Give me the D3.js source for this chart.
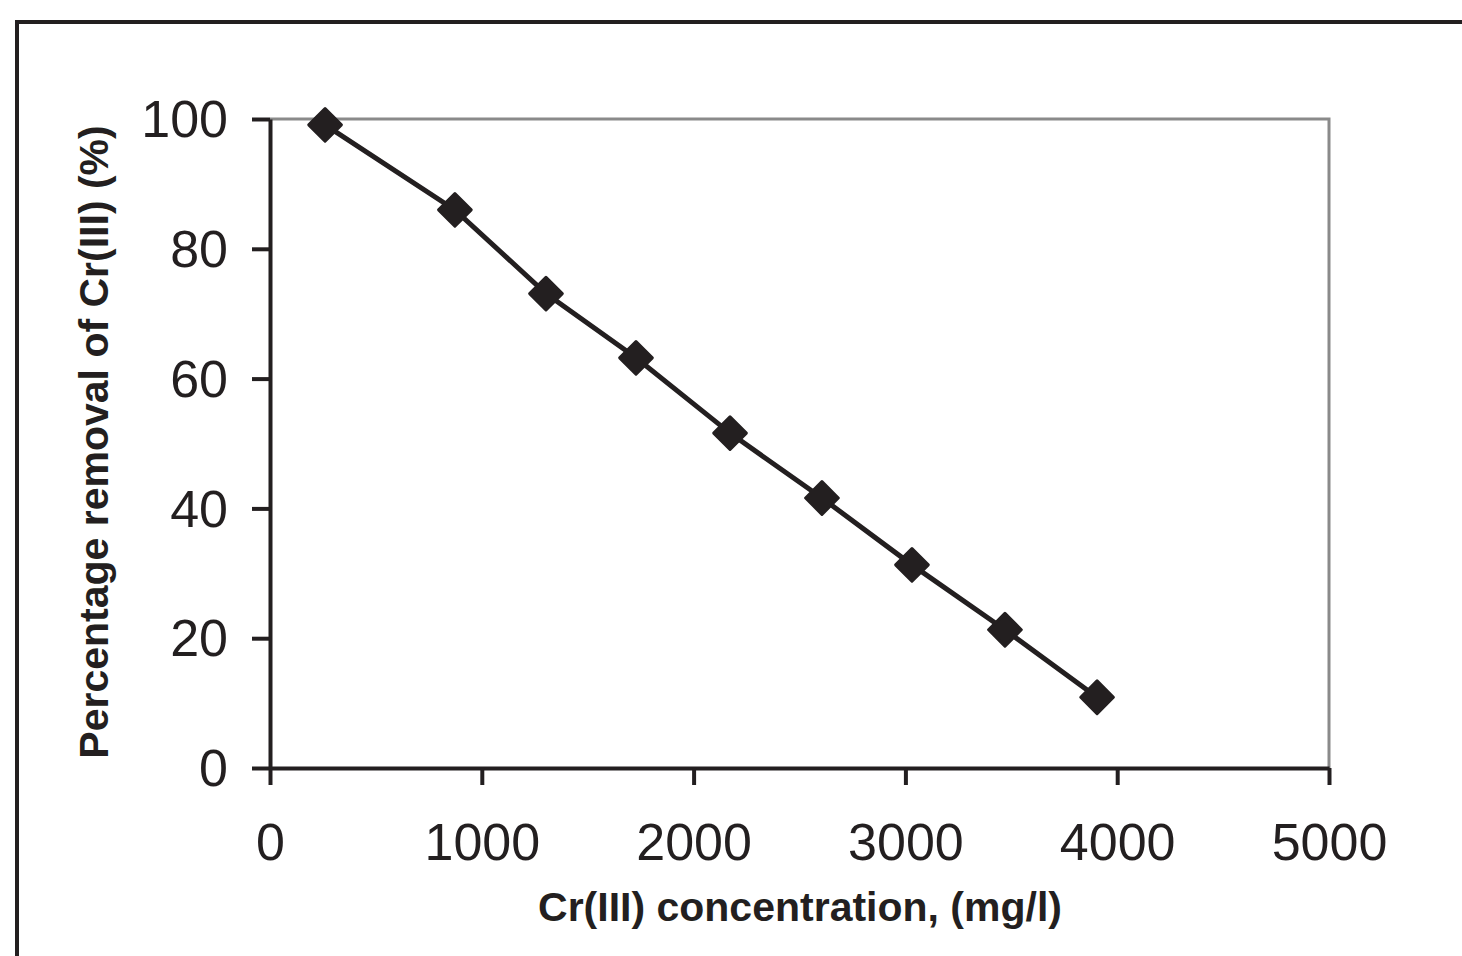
<!DOCTYPE html>
<html>
<head>
<meta charset="utf-8">
<script src="https://cdn.jsdelivr.net/npm/d3@7"></script>
<style>
  body { margin: 0; background: #fff; }
  svg { display: block; }
</style>
</head>
<body>
<div id="chart"></div>
<script>
// Cr(III) concentration (mg/l) vs percentage removal (%)
const concentration = [260, 873, 1303, 1728, 2172, 2606, 3031, 3470, 3905];
const removal = [99.1, 86.0, 73.1, 63.2, 51.6, 41.6, 31.3, 21.3, 10.9];
const xTicks = [0, 1000, 2000, 3000, 4000, 5000];
const yTicks = [0, 20, 40, 60, 80, 100];

const W = 1462, H = 956;
const plotL = 270, plotR = 1329, plotT = 119, plotB = 768;

const svg = d3.select("#chart")
    .append("svg")
    .attr("width", W)
    .attr("height", H);

// outer figure frame (runs off the right and bottom edges)
svg.append("rect")
    .attr("x", 17).attr("y", 22)
    .attr("width", W + 20).attr("height", H + 20)
    .attr("fill", "none")
    .attr("stroke", "#231f20")
    .attr("stroke-width", 4);

const x = d3.scaleLinear().domain([0, 5000]).range([plotL, plotR]);
const y = d3.scaleLinear().domain([0, 100]).range([plotB, plotT]);

// gray plot border (top + right)
svg.append("path")
    .attr("d", `M${plotL},${plotT}H${plotR}V${plotB}`)
    .attr("fill", "none")
    .attr("stroke", "#8a8a8a")
    .attr("stroke-width", 3);

const font = "Liberation Sans, Arial, sans-serif";

const xAxis = svg.append("g")
    .attr("transform", `translate(0,${plotB})`)
    .call(d3.axisBottom(x).tickValues(xTicks).tickFormat(d3.format("d"))
        .tickSize(17).tickPadding(36).tickSizeOuter(0));

const yAxis = svg.append("g")
    .attr("transform", `translate(${plotL},0)`)
    .call(d3.axisLeft(y).tickValues(yTicks).tickFormat(d3.format("d"))
        .tickSize(18).tickPadding(24).tickSizeOuter(0));

[xAxis, yAxis].forEach(g => {
    g.select(".domain").attr("stroke", "#231f20").attr("stroke-width", 4);
    g.selectAll(".tick line").attr("stroke", "#231f20").attr("stroke-width", 4);
    g.selectAll(".tick text")
        .attr("fill", "#231f20")
        .style("font-family", font)
        .style("font-size", "52px");
});
xAxis.selectAll(".tick text").attr("dy", "0.75em");
yAxis.selectAll(".tick text").attr("dy", "0.34em");

// data line
const line = d3.line()
    .x((d, i) => x(concentration[i]))
    .y(d => y(d));

svg.append("path")
    .datum(removal)
    .attr("d", line)
    .attr("fill", "none")
    .attr("stroke", "#231f20")
    .attr("stroke-width", 5);

// diamond markers
svg.append("g")
    .selectAll("path")
    .data(removal)
    .enter().append("path")
    .attr("d", d3.symbol().type(d3.symbolDiamond2).size(680))
    .attr("transform", (d, i) => `translate(${x(concentration[i])},${y(d)})`)
    .attr("fill", "#231f20")
    .attr("stroke", "#231f20")
    .attr("stroke-width", 3)
    .attr("stroke-linejoin", "round");

// axis titles
svg.append("text")
    .attr("x", 800)
    .attr("y", 921)
    .attr("text-anchor", "middle")
    .style("font-family", font)
    .style("font-weight", "bold")
    .style("font-size", "41px")
    .attr("fill", "#231f20")
    .text("Cr(III) concentration, (mg/l)");

svg.append("text")
    .attr("transform", "translate(108,442) rotate(-90)")
    .attr("text-anchor", "middle")
    .style("font-family", font)
    .style("font-weight", "bold")
    .style("font-size", "41px")
    .attr("fill", "#231f20")
    .text("Percentage removal of Cr(III) (%)");
</script>
</body>
</html>
